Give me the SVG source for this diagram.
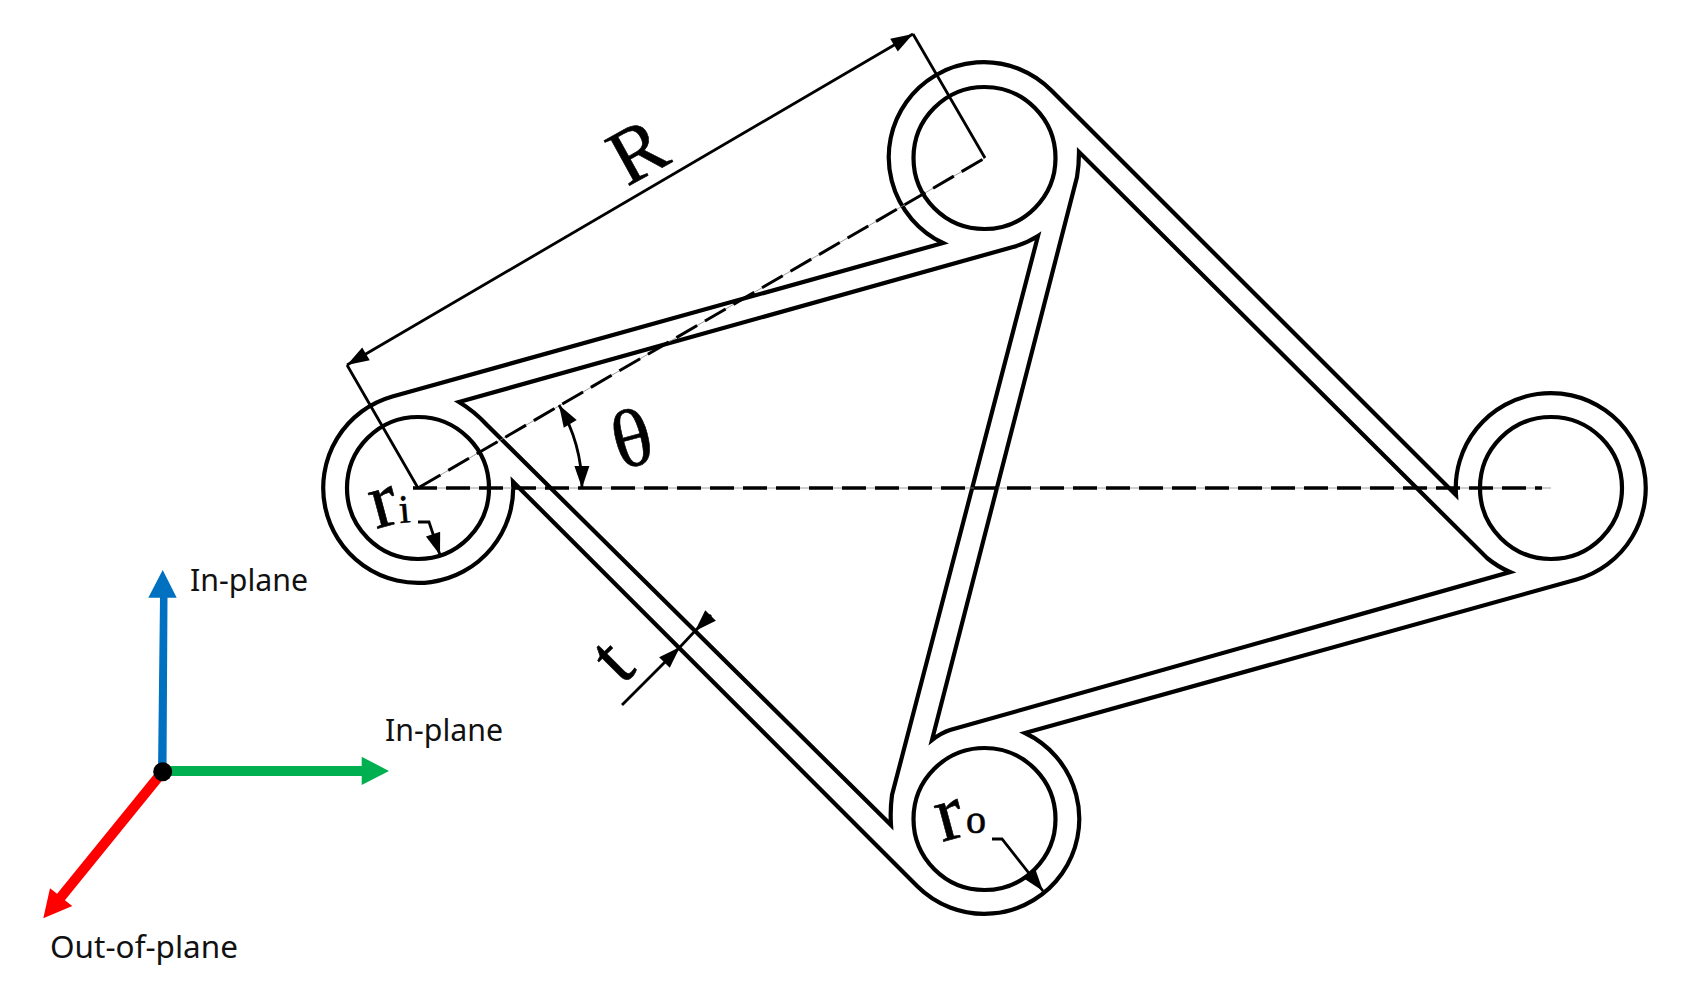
<svg xmlns="http://www.w3.org/2000/svg" width="1693" height="996" viewBox="0 0 1693 996">
<style>
.o{fill:none;stroke:#000;stroke-width:4.2;stroke-linejoin:miter;stroke-linecap:round}
.d{fill:none;stroke:#000;stroke-width:2.8;stroke-linecap:butt}
.c{fill:none;stroke:#000;stroke-width:3.4;stroke-dasharray:24 9}
.c2{fill:none;stroke:#000;stroke-width:3;stroke-dasharray:24 9}
.t{fill:none;stroke:#888;stroke-width:.8}
.s{font-family:"Liberation Serif","Times New Roman",serif;fill:#000;stroke:#000;stroke-width:.6}
.a{font-family:"Noto Sans","Open Sans",sans-serif;font-size:31px;fill:#111}
</style>
<defs>
<marker id="ah" viewBox="-23 -9 24 18" refX="0" refY="0" markerWidth="24" markerHeight="18" markerUnits="userSpaceOnUse" orient="auto-start-reverse"><path d="M-22,-7.5L0,0L-22,7.5z" fill="#000"/></marker>
</defs>
<rect width="1693" height="996" fill="#fff"/>
<g id="structure-outer"><path class="o" d="M513,481.7A95,95 0 1 1 392.4,396.5L943,243A95,95 0 1 1 1051.7,90.8L1456,495A95,95 0 1 1 1576.6,579.5L1025,733A95,95 0 1 1 917.3,886.2Z"/></g>
<g id="cell-left"><path class="o" d="M459,402L1013,247Q1027,243 1038,236L892,795Q890,810 891,825L487,425Q474,411 459,402Z"/></g>
<g id="cell-right"><path class="o" d="M1079,152L1487,558Q1498,567 1510,572L950,730Q941,733 932,740L1077,177Q1079,165 1079,152Z"/></g>
<g id="hinge-left"><circle class="o" cx="418" cy="488" r="71"/></g>
<g id="hinge-top"><circle class="o" cx="984.5" cy="158" r="71"/></g>
<g id="hinge-right"><circle class="o" cx="1551" cy="488" r="71"/></g>
<g id="hinge-bottom"><circle class="o" cx="984.5" cy="819" r="71"/></g>
<g id="connectors">
<path class="t" d="M413,488H1551M418,488L985,158"/>
<path class="c" d="M413,488H1542"/>
<path class="c2" d="M418,488L985,158" stroke-dashoffset="-2"/>
<path class="d" d="M418,488L347,365M985,158L913,34"/>
<path class="d" d="M347,365L913,34" marker-start="url(#ah)" marker-end="url(#ah)"/>
<path class="d" d="M559,405A164,164 0 0 1 582,488" marker-start="url(#ah)" marker-end="url(#ah)"/>
<path class="d" d="M418,522H429L440,555" marker-end="url(#ah)"/>
<path class="d" d="M992,839H1002L1043,891" marker-end="url(#ah)"/>
<path class="d" d="M622,705L680,647" marker-end="url(#ah)"/>
<path class="d" d="M711,615L695,631" marker-end="url(#ah)"/>
<path class="d" d="M695,631L680,647"/>
</g>
<g id="label-R"><text class="s" font-size="79" transform="translate(627,187) rotate(-29)">R</text></g>
<g id="label-theta"><text class="s" font-size="82" text-anchor="middle" transform="translate(639,465) rotate(-15)">θ</text></g>
<g id="label-t"><text class="s" font-size="80" transform="translate(622,686) rotate(-45)">t</text></g>
<g id="label-ri"><text class="s" font-size="80" transform="translate(376,529) rotate(-15)">r</text><text class="s" font-size="40" transform="translate(400,523) rotate(-5)">i</text></g>
<g id="label-ro"><text class="s" font-size="80" transform="translate(942,842) rotate(-15)">r</text><text class="s" font-size="40" transform="translate(966,833)">o</text></g>
<g id="axis-blue"><path d="M158,772L160,597.7H148.3L162.7,570L176.7,597.7H167.5L166.5,772Z" fill="#0070C0"/></g>
<g id="axis-green"><path d="M163,766H361.7V756.7L389,771L361.7,785V776H163Z" fill="#00B050"/></g>
<g id="axis-red"><path d="M166.6,774.9L64.9,900.2L72.3,906L43.3,918.3L50,888.3L57.1,893.8L158.8,768.5Z" fill="#FF0000"/></g>
<g id="axis-origin"><circle cx="162.7" cy="771.7" r="9.5" fill="#000"/></g>
<g id="axis-labels">
<text class="a" x="190" y="591" textLength="118" lengthAdjust="spacingAndGlyphs">In-plane</text>
<text class="a" x="385" y="741" textLength="118" lengthAdjust="spacingAndGlyphs">In-plane</text>
<text class="a" x="50" y="958" textLength="188" lengthAdjust="spacingAndGlyphs">Out-of-plane</text>
</g>
</svg>
